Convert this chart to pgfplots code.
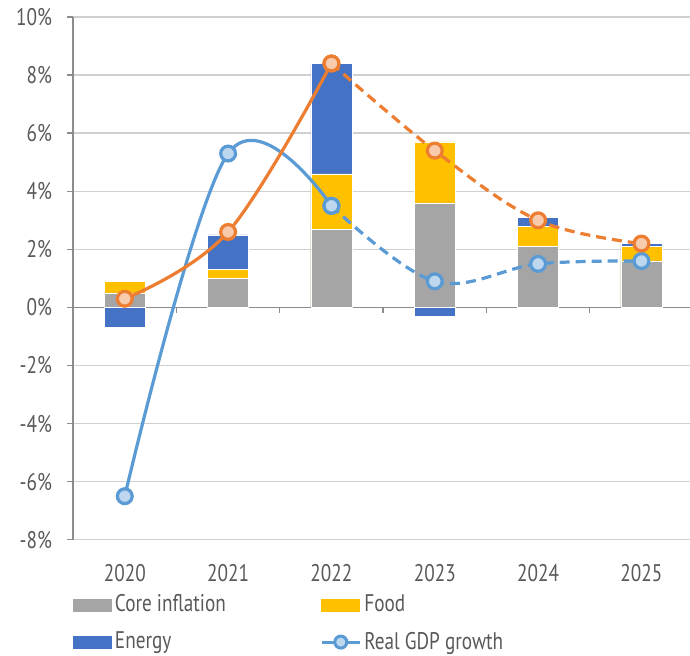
\documentclass[border=0pt]{standalone}
\usepackage{fontspec}
\setmainfont{PT Sans}[FakeStretch=0.8]
\usepackage{pgfplots}
\pgfplotsset{compat=1.18}
\definecolor{coregray}{HTML}{A5A5A5}
\definecolor{foodyellow}{HTML}{FFC000}
\definecolor{energyblue}{HTML}{4472C4}
\definecolor{gdpblue}{HTML}{5B9BD5}
\definecolor{gdplight}{HTML}{BDD7EE}
\definecolor{infor}{HTML}{ED7D31}
\definecolor{inforlight}{HTML}{F8CBAD}
\definecolor{axisgray}{HTML}{8C8C8C}
\definecolor{gridgray}{HTML}{D0D0D0}
\definecolor{textgray}{HTML}{595959}
\begin{document}
\begin{tikzpicture}
\begin{axis}[name=ax, scale only axis, width=308pt, height=261pt,
  xmin=-0.5, xmax=5.47, ymin=-8, ymax=10,
  axis lines*=left,
  x axis line style={draw=none},
  y axis line style={draw=axisgray, line width=0.7pt},
  xtick style={draw=none},
  ytick style={draw=axisgray, line width=0.7pt},
  tick align=outside, major tick length=3pt,
  ymajorgrids, grid style={gridgray, line width=0.7pt},
  xtick={0,1,2,3,4,5}, xticklabels={2020,2021,2022,2023,2024,2025},
  ytick={-8,-6,-4,-2,0,2,4,6,8,10},
  yticklabels={-8\%,-6\%,-4\%,-2\%,0\%,2\%,4\%,6\%,8\%,10\%},
  ticklabel style={font=\fontsize{12}{14}\selectfont, text=textgray},
  xticklabel style={yshift=-5.5pt},
  yticklabel style={xshift=-4pt},
  legend columns=2,
  legend style={at={(0,0)}, anchor=north west, yshift=-26pt, draw=none, fill=none,
    inner sep=0pt, outer sep=0pt, row sep=5.5pt,
    font=\fontsize{12}{14}\selectfont, text=textgray,
    nodes={inner sep=1.5pt, anchor=west}},
]
\draw[axisgray, line width=0.7pt] (axis cs:-0.5,0) -- (axis cs:5.47,0);
\pgfplotsinvokeforeach{0.5,1.5,2.5,3.5,4.5}{\draw[axisgray, line width=0.7pt] (axis cs:#1,0) -- ++(0pt,-3pt);}
% bars drawn as cumulative tops, overlapping (energy total, food top, core)
\addplot[ybar, bar width=20.5pt, bar shift=0pt, fill=energyblue, draw=white, line width=0.3pt, forget plot]
  coordinates {(0,-0.7)(1,2.5)(2,8.4)(3,-0.3)(4,3.1)(5,2.2)};
\addplot[ybar, bar width=20.5pt, bar shift=0pt, fill=foodyellow, draw=white, line width=0.3pt, forget plot]
  coordinates {(0,0.9)(1,1.3)(2,4.6)(3,5.7)(4,2.8)(5,2.1)};
\addplot[ybar, bar width=20.5pt, bar shift=0pt, fill=coregray, draw=white, line width=0.3pt, forget plot]
  coordinates {(0,0.5)(1,1.0)(2,2.7)(3,3.6)(4,2.1)(5,1.6)};
% GDP
\addplot[smooth, tension=0.6, gdpblue, line width=1.6pt, mark=*, mark size=3.7pt,
  mark options={fill=gdplight, draw=gdpblue, line width=1.6pt, solid}, forget plot]
  coordinates {(0,-6.5)(1,5.3)(2,3.5)};
\addplot[smooth, tension=0.6, gdpblue, line width=1.6pt, dash pattern=on 5pt off 3pt, mark=*, mark size=3.7pt,
  mark options={fill=gdplight, draw=gdpblue, line width=1.6pt, solid}, forget plot]
  coordinates {(2,3.5)(3,0.9)(4,1.5)(5,1.6)};
% inflation
\addplot[smooth, tension=0.6, infor, line width=1.6pt, mark=*, mark size=3.7pt,
  mark options={fill=inforlight, draw=infor, line width=1.6pt, solid}, forget plot]
  coordinates {(0,0.3)(1,2.6)(2,8.4)};
\addplot[smooth, tension=0.6, infor, line width=1.6pt, dash pattern=on 5pt off 3pt, mark=*, mark size=3.7pt,
  mark options={fill=inforlight, draw=infor, line width=1.6pt, solid}, forget plot]
  coordinates {(2,8.4)(3,5.4)(4,3.0)(5,2.2)};
% legend
\addlegendimage{legend image code/.code={\fill[coregray] (0pt,-3pt) rectangle (19pt,3pt);}}
\addlegendentry{\makebox[101pt][l]{Core inflation}}
\addlegendimage{legend image code/.code={\fill[foodyellow] (0pt,-3pt) rectangle (19pt,3pt);}}
\addlegendentry{Food}
\addlegendimage{legend image code/.code={\fill[energyblue] (0pt,-3pt) rectangle (19pt,3pt);}}
\addlegendentry{\makebox[101pt][l]{Energy}}
\addlegendimage{legend image code/.code={\draw[gdpblue, line width=1.5pt] (0pt,0pt) -- (19pt,0pt);
  \draw[fill=gdplight, draw=gdpblue, line width=1.5pt] (9.5pt,0pt) circle (3pt);}}
\addlegendentry{Real GDP growth}
\end{axis}
\pgfresetboundingbox
\path (ax.south west) ++(-36.5pt,-58pt) coordinate (bl);
\path (ax.north east) ++(0pt,8.5pt) coordinate (tr);
\path (bl) rectangle (tr);
\end{tikzpicture}
\end{document}
